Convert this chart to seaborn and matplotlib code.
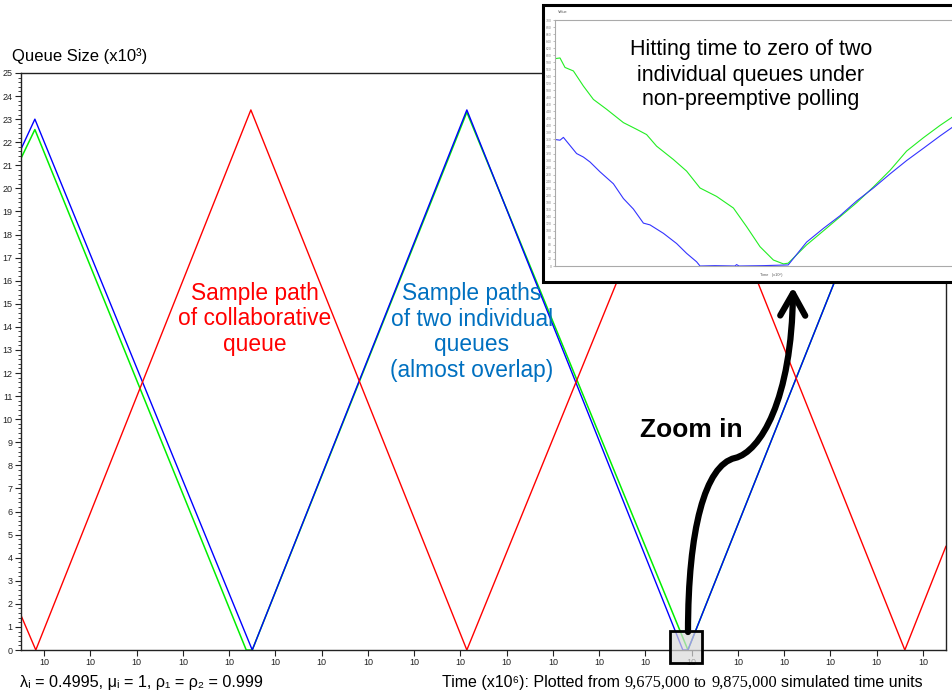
import matplotlib
matplotlib.use('Agg')
import matplotlib.pyplot as plt
import numpy as np
import pandas as pd
import seaborn as sns
from matplotlib.patches import Rectangle, FancyArrowPatch
from matplotlib.path import Path

sns.set_style('ticks')
plt.rcParams['font.family'] = ['Liberation Sans', 'DejaVu Sans']
plt.rcParams['text.color'] = 'black'

W, H = 953, 694

# ---- main chart: time (x10^6) vs queue size (x10^3) ----
red_t = [9.6750, 9.6782, 9.7247, 9.7714, 9.8192, 9.8661, 9.8750]
red_q = [1.5, 0.0, 23.4, 0.0, 23.5, 0.0, 4.5]

blue_t = [9.6750, 9.6780, 9.7250, 9.7714, 9.8181, 9.8192, 9.8657, 9.8750]
blue_q = [21.7, 23.0, 0.0, 23.4, 0.0, 0.0, 23.4, 18.8]

green_t = [9.6750, 9.6780, 9.7237, 9.7250, 9.7714, 9.8192, 9.8657, 9.8750]
green_q = [21.3, 22.55, 0.0, 0.0, 23.3, 0.0, 23.4, 18.8]

# ---- inset: zoom near the hitting time to zero ----
in_green_u = [0, 1.25, 2.5, 4.6, 7.1, 9.6, 12.9, 17.1, 20.4, 22.9, 25.4, 29.6, 32.9, 36.25,
              40.4, 44.6, 47.9, 51.25, 54.6, 57.1, 58.3, 62.9, 67.1, 71.25, 75.4, 79.6,
              83.75, 87.9, 92.1, 96.25, 99.5]
in_green_v = [590, 592, 565, 555, 512, 474, 446, 408, 389, 374, 341, 303, 270, 222,
              198, 165, 112, 55, 17, 6, 8, 60, 100, 140, 180, 225,
              272, 327, 365, 400, 425]

in_blue_u = [0, 1.25, 2.1, 3.75, 5.4, 7.1, 8.75, 11.25, 14.6, 17.1, 19.6, 22.1, 23.75, 27.1,
             30.4, 32.9, 35.4, 36.25, 40.0, 45.0, 45.4, 46.0, 52.0, 58.3, 62.9, 67.1, 71.25,
             75.4, 79.6, 83.75, 87.9, 92.1, 96.25, 99.5]
in_blue_v = [360, 358, 366, 343, 320, 310, 296, 268, 234, 192, 162, 122, 117, 93,
             64, 36, 12, 0, 1, 0, 4, 0, 1, 3, 68, 107, 143,
             185, 222, 262, 300, 335, 370, 396]


def fx(x):
    return x / W


def fy(y):
    return 1 - y / H


fig = plt.figure(figsize=(W / 100, H / 100), dpi=100)
ax = fig.add_axes([fx(21), fy(650), 925 / W, 577 / H])

sns.lineplot(x=green_t, y=green_q, color='#00ee00', lw=1.1, sort=False, estimator=None, ax=ax)
sns.lineplot(x=blue_t, y=blue_q, color='#0000ff', lw=1.0, sort=False, estimator=None, ax=ax)
sns.lineplot(x=red_t, y=red_q, color='#ff0000', lw=1.0, sort=False, estimator=None, ax=ax)

ax.set_xlim(9.675, 9.875)
ax.set_ylim(0, 25)
narrow = ['Liberation Sans Narrow', 'Liberation Sans', 'DejaVu Sans']
ax.set_yticks(range(26))
ax.set_yticklabels([str(i) for i in range(26)], family=narrow, fontsize=6.5)
ax.set_yticks(np.arange(0, 25.01, 0.2), minor=True)
xt = np.arange(9.68, 9.875, 0.01)
ax.set_xticks(xt)
ax.set_xticklabels(['%.0f' % v for v in xt], family=narrow, fontsize=6.5)
ax.tick_params(axis='both', which='major', length=4, width=0.8, pad=2, colors='#222222')
ax.tick_params(axis='y', which='minor', length=2, width=0.6, colors='#222222')
ax.set_xlabel('')
ax.set_ylabel('')
for s in ax.spines.values():
    s.set_linewidth(1.0)
    s.set_color('#222222')

fig.text(fx(12), fy(56), 'Queue Size (x10³)', fontsize=12, va='center', ha='left')

fig.text(fx(255), fy(319), 'Sample path\nof collaborative\nqueue', color='#ff0000',
         fontsize=16.4, ha='center', va='center', linespacing=1.15)
fig.text(fx(472), fy(332), 'Sample paths\nof two individual\nqueues\n(almost overlap)', color='#0070c0',
         fontsize=16.4, ha='center', va='center', linespacing=1.15)
fig.text(fx(691), fy(430), 'Zoom in', fontsize=19, weight='bold', ha='center', va='center',
         color='black')

fig.text(fx(20), fy(687), 'λᵢ = 0.4995, μᵢ = 1, ρ₁ = ρ₂ = 0.999', fontsize=11.7, va='baseline')

# caption with mixed fonts, pieces chained left to right
renderer = fig.canvas.get_renderer()
parts = [('Time (x10⁶): Plotted from', ['Liberation Sans', 'DejaVu Sans'], 11.5),
         ('9,675,000', ['Liberation Serif'], 11.8),
         ('to', ['Liberation Serif'], 11.8),
         ('9,875,000', ['Liberation Serif'], 11.8),
         ('simulated time units', ['Liberation Sans'], 11.5)]
xpos = 442
for s, fam, size in parts:
    t = fig.text(fx(xpos), fy(687), s, family=fam, fontsize=size, va='baseline')
    bb = t.get_window_extent(renderer)
    xpos = bb.x1 + 4.3

# small grey zoom box on the x axis
fig.add_artist(Rectangle((fx(670), fy(663)), 32 / W, 32 / H, transform=fig.transFigure,
                         facecolor=(0.85, 0.85, 0.85, 0.7), edgecolor='black', lw=2.0, zorder=4))

# inset frame and axes
fig.add_artist(Rectangle((fx(543), fy(282)), 430 / W, 277 / H, transform=fig.transFigure,
                         facecolor='white', edgecolor='black', lw=2.2, zorder=5))
ins = fig.add_axes([fx(555), fy(266), 400 / W, 246 / H], zorder=6)
sns.lineplot(x=in_green_u, y=in_green_v, color='#22ee22', lw=0.8, sort=False, estimator=None, ax=ins)
sns.lineplot(x=in_blue_u, y=in_blue_v, color='#3333ff', lw=0.8, sort=False, estimator=None, ax=ins)
ins.set_xlim(0, 100)
ins.set_ylim(0, 700)
ins.set_yticks(range(0, 701, 20))
ins.set_yticklabels([str(v) for v in range(0, 701, 20)], fontsize=2.5, color='#666666')
ins.set_xticks([])
ins.set_xlabel('')
ins.set_ylabel('')
ins.tick_params(axis='y', length=1.5, width=0.4, pad=1, colors='#888888')
for s in ins.spines.values():
    s.set_linewidth(0.8)
    s.set_color('#aaaaaa')
fig.text(fx(558), fy(12), 'Value', fontsize=2.8, color='#555555', va='center', zorder=7)
fig.text(fx(760), fy(275), 'Time   (x10⁶)', fontsize=2.8, color='#555555', va='center', zorder=7)
fig.text(fx(751), fy(75), 'Hitting time to zero of two\nindividual queues under\nnon-preemptive polling',
         fontsize=15.5, ha='center', va='center', linespacing=1.25, zorder=7, color='black')

# curved zoom arrow
verts = [(688, 632), (688, 530), (705, 465), (735, 458),
         (760, 452), (792, 400), (793, 287)]
codes = [Path.MOVETO, Path.CURVE4, Path.CURVE4, Path.CURVE4,
         Path.CURVE4, Path.CURVE4, Path.CURVE4]
arrow_path = Path([(fx(x), fy(y)) for x, y in verts], codes)
arrow = FancyArrowPatch(path=arrow_path, arrowstyle='->,head_length=1.6,head_width=0.9',
                        mutation_scale=10, lw=4.5, color='black', transform=fig.transFigure,
                        zorder=8, capstyle='round', joinstyle='round')
fig.add_artist(arrow)

fig.savefig('out.png', dpi=100)
